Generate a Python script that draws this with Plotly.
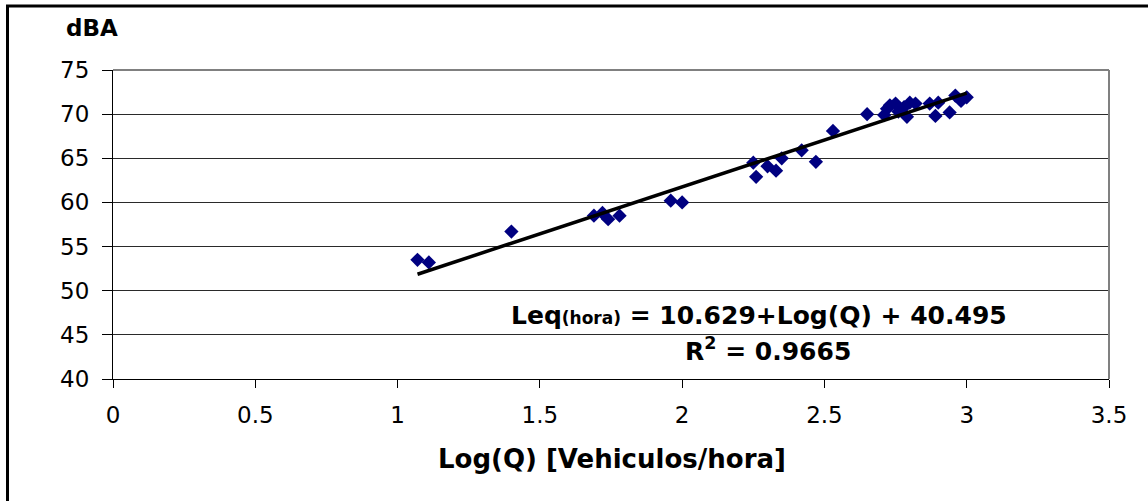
import plotly.graph_objects as go

# Data
log_q = [1.07, 1.11, 1.40, 1.69, 1.72, 1.74, 1.78, 1.96, 2.00, 2.25, 2.26, 2.30,
         2.33, 2.35, 2.42, 2.47, 2.53, 2.65, 2.71, 2.72, 2.73, 2.75, 2.76, 2.78,
         2.79, 2.80, 2.82, 2.87, 2.89, 2.90, 2.94, 2.96, 2.98, 3.00]
dba = [53.5, 53.2, 56.7, 58.5, 58.8, 58.1, 58.5, 60.2, 60.0, 64.5, 62.9, 64.1,
       63.6, 65.0, 65.9, 64.6, 68.1, 70.0, 69.9, 70.6, 71.0, 71.2, 70.3, 70.8,
       69.7, 71.3, 71.2, 71.2, 69.8, 71.3, 70.2, 72.1, 71.5, 71.9]

slope = 10.629
intercept = 40.495
r2 = 0.9665

x_ticks = [0, 0.5, 1, 1.5, 2, 2.5, 3, 3.5]
x_tick_labels = ["0", "0.5", "1", "1.5", "2", "2.5", "3", "3.5"]
y_ticks = [40, 45, 50, 55, 60, 65, 70, 75]
y_tick_labels = ["40", "45", "50", "55", "60", "65", "70", "75"]

trend_x = [min(log_q), max(log_q)]
trend_y = [slope * v + intercept for v in trend_x]

FONT = "DejaVu Sans"

fig = go.Figure()
fig.add_trace(go.Scatter(
    x=log_q, y=dba, mode="markers",
    marker=dict(symbol="diamond", size=11, color="#000080", line=dict(width=0)),
    showlegend=False, hoverinfo="x+y"))
fig.add_trace(go.Scatter(
    x=trend_x, y=trend_y, mode="lines",
    line=dict(color="black", width=3.5), showlegend=False))

W, H = 1148, 501
L, R, T, B = 113, 39, 70, 122
pw, ph = W - L - R, H - T - B

def px2paper_x(px):
    return (px - L) / pw

def px2paper_y(py):
    return (H - B - py) / ph

fig.update_layout(
    width=W, height=H,
    margin=dict(l=L, r=R, t=T, b=B, pad=0, autoexpand=False),
    paper_bgcolor="white", plot_bgcolor="white",
    font=dict(family=FONT, color="black", size=24),
    xaxis=dict(range=[0, 3.5], tickvals=x_ticks, ticktext=x_tick_labels,
               showgrid=False, zeroline=False, showline=True, linecolor="black",
               linewidth=1, ticks="outside", ticklen=8, tickcolor="black",
               tickfont=dict(family=FONT, size=23, color="black"),
               ticklabelstandoff=7, automargin=False),
    yaxis=dict(range=[40, 75], tickvals=y_ticks, ticktext=y_tick_labels,
               showgrid=True, gridcolor="#2a2a2a", gridwidth=1,
               zeroline=False, showline=True, linecolor="black",
               linewidth=1, ticks="outside", ticklen=10, tickcolor="black",
               tickfont=dict(family=FONT, size=23, color="black"),
               ticklabelstandoff=8, automargin=False),
    shapes=[
        # plot area border (gray top and right edges)
        dict(type="line", xref="paper", yref="paper", x0=0, x1=1, y0=1, y1=1,
             line=dict(color="#808080", width=2), layer="above"),
        dict(type="line", xref="paper", yref="paper", x0=1, x1=1, y0=0, y1=1,
             line=dict(color="#808080", width=2), layer="above"),
        # outer chart border
        dict(type="rect", xref="paper", yref="paper",
             x0=px2paper_x(7.5), x1=px2paper_x(1175),
             y0=px2paper_y(525), y1=px2paper_y(6),
             line=dict(color="black", width=3), layer="above"),
    ],
    annotations=[
        dict(text="<b>dBA</b>", xref="paper", yref="paper",
             x=px2paper_x(92), y=px2paper_y(28), xanchor="center", yanchor="middle",
             showarrow=False, font=dict(family=FONT, size=23, color="black")),
        dict(text="<b>Log(Q) [Vehiculos/hora]</b>", xref="paper", yref="paper",
             x=px2paper_x(612), y=px2paper_y(459), xanchor="center", yanchor="middle",
             showarrow=False, font=dict(family=FONT, size=26, color="black")),
        dict(text=f"<b>Leq<span style='font-size:17px'>(hora)</span> = {slope}+Log(Q) + {intercept}</b>",
             xref="paper", yref="paper",
             x=px2paper_x(509), y=px2paper_y(315), xanchor="left", yanchor="middle",
             showarrow=False, font=dict(family=FONT, size=25, color="black")),
        dict(text=f"<b>R<sup>2</sup> = {r2}</b>", xref="paper", yref="paper",
             x=px2paper_x(768), y=px2paper_y(349), xanchor="center", yanchor="middle",
             showarrow=False, font=dict(family=FONT, size=25, color="black")),
    ],
)

# remove the default page margin so the figure sits at the window origin
fig.write_html(
    "out.html",
    config={"displayModeBar": False},
    post_script="document.body.style.margin='0';document.body.style.overflow='hidden';",
)
